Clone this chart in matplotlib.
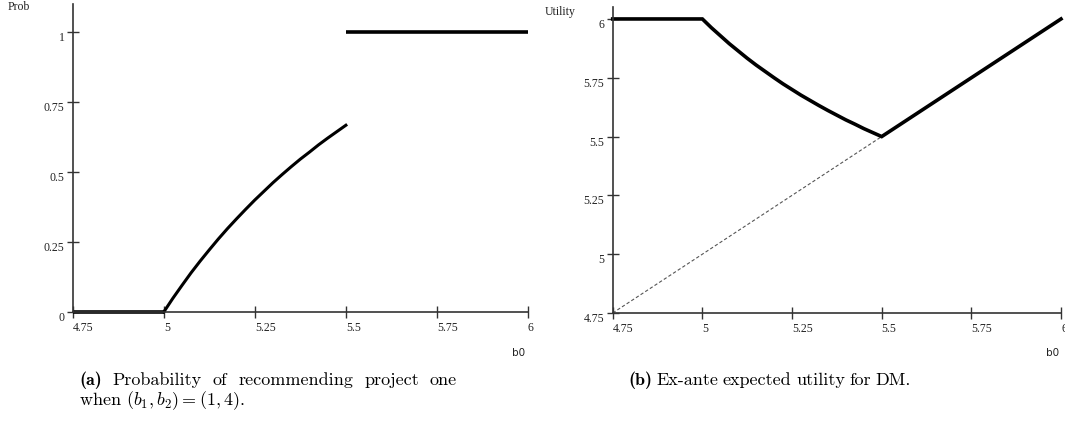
import numpy as np
import matplotlib
matplotlib.use("Agg")
import matplotlib.pyplot as plt

# ---- data ----
x_ticks = [4.75, 5.0, 5.25, 5.5, 5.75, 6.0]
x_tick_labels = ["4.75", "5", "5.25", "5.5", "5.75", "6"]

# (a) probability of recommending project one
prob_flat0_x = [4.75, 5.0]
prob_flat0_y = [0.0, 0.0]
prob_curve_x = [5.0, 5.025, 5.05, 5.075, 5.1, 5.125, 5.15, 5.175, 5.2, 5.225, 5.25,
                5.275, 5.3, 5.325, 5.35, 5.375, 5.4, 5.425, 5.45, 5.475, 5.5]
prob_curve_y = [0.0, 0.049, 0.095, 0.140, 0.182, 0.222, 0.261, 0.298, 0.333, 0.367, 0.400,
                0.431, 0.462, 0.491, 0.519, 0.546, 0.571, 0.597, 0.621, 0.644, 0.667]
prob_flat1_x = [5.5, 6.0]
prob_flat1_y = [1.0, 1.0]
prob_y_ticks = [0, 0.25, 0.5, 0.75, 1]
prob_y_labels = ["0", "0.25", "0.5", "0.75", "1"]

# (b) ex-ante expected utility
util_x = [4.75, 5.0, 5.025, 5.05, 5.075, 5.1, 5.125, 5.15, 5.175, 5.2, 5.225, 5.25,
          5.275, 5.3, 5.325, 5.35, 5.375, 5.4, 5.425, 5.45, 5.475, 5.5, 6.0]
util_y = [6.0, 6.0, 5.963, 5.929, 5.895, 5.864, 5.833, 5.804, 5.777, 5.75, 5.724, 5.70,
          5.676, 5.654, 5.632, 5.611, 5.591, 5.571, 5.553, 5.534, 5.517, 5.5, 6.0]
diag_x = [4.75, 5.5]
diag_y = [4.75, 5.5]
util_y_ticks = [4.75, 5, 5.25, 5.5, 5.75, 6]
util_y_labels = ["4.75", "5", "5.25", "5.5", "5.75", "6"]

plt.rcParams["mathtext.fontset"] = "cm"

W, H = 1065, 421
fig = plt.figure(figsize=(W / 100, H / 100), dpi=100)

ax1 = fig.add_axes([72.7 / W, 1 - 312 / H, (528 - 72.7) / W, 308 / H])
ax2 = fig.add_axes([612.7 / W, 1 - 313 / H, (1061 - 612.7) / W, (313 - 7.2) / H])

tick_font = dict(family="Liberation Serif", size=8.5, color="#222222")


def style_axes(ax, yticks, ylabels, ylim):
    ax.set_xlim(4.75, 6.0)
    ax.set_ylim(*ylim)
    for s in ["top", "right"]:
        ax.spines[s].set_visible(False)
    for s in ["left", "bottom"]:
        ax.spines[s].set_color("#333333")
        ax.spines[s].set_linewidth(1.2)
    ax.set_xticks(x_ticks)
    ax.set_xticklabels(x_tick_labels, ha="left", **tick_font)
    ax.set_yticks(yticks)
    ax.set_yticklabels(ylabels, va="top", **tick_font)
    ax.tick_params(axis="both", direction="inout", length=9, width=1.0, color="#333333")
    ax.tick_params(axis="x", pad=2.5)
    ax.tick_params(axis="y", pad=1.5)
    ax.patch.set_visible(False)


style_axes(ax1, prob_y_ticks, prob_y_labels, (0, 1.1))
style_axes(ax2, util_y_ticks, util_y_labels, (4.75, 6.05))

lw = 2.6
ax1.plot(prob_flat0_x, prob_flat0_y, color="black", lw=lw, clip_on=False, solid_capstyle="butt")
ax1.plot(prob_curve_x, prob_curve_y, color="black", lw=2.2, clip_on=False)
ax1.plot(prob_flat1_x, prob_flat1_y, color="black", lw=lw, clip_on=False, solid_capstyle="butt")

ax2.plot(diag_x, diag_y, color="#555555", lw=0.8, ls=(0, (3, 2)), clip_on=False)
ax2.plot(util_x, util_y, color="black", lw=lw, clip_on=False, solid_joinstyle="miter")

# axis names
lab_font = dict(family="Liberation Serif", size=8.5, color="#222222")
fig.text(8 / W, 1 - 7 / H, "Prob", ha="left", va="center", **lab_font)
fig.text(545 / W, 1 - 12 / H, "Utility", ha="left", va="center", **lab_font)
fig.text(519 / W, 1 - 353 / H, "b0", ha="center", va="center", family="DejaVu Sans", size=7.5, color="#222222")
fig.text(1053 / W, 1 - 353 / H, "b0", ha="center", va="center", family="DejaVu Sans", size=7.5, color="#222222")

# captions
cap_size = 13
fig.canvas.draw()
renderer = fig.canvas.get_renderer()


def place_words(words, x0, y, x1=None, gap=None):
    objs = []
    for w, bold in words:
        t = fig.text(0, 1 - y / H, w, ha="left", va="center",
                     family="cmb10" if bold else "cmr10", size=cap_size)
        objs.append(t)
    widths = [t.get_window_extent(renderer).width for t in objs]
    if x1 is not None:
        gap = (x1 - x0 - sum(widths)) / (len(objs) - 1)
    x = x0
    for t, wd in zip(objs, widths):
        t.set_x(x / W)
        x += wd + gap


line_a1 = [("(a)", True), ("Probability", False), ("of", False), ("recommending", False),
           ("project", False), ("one", False)]
place_words(line_a1, 79, 380, x1=457)
fig.text(79 / W, 1 - 401 / H, r"when $(b_1, b_2) = (1, 4)$.", ha="left", va="center",
         family="cmr10", size=cap_size)

line_b = [("(b)", True), ("Ex-ante", False), ("expected", False), ("utility", False),
          ("for", False), ("DM.", False)]
place_words(line_b, 628, 380, gap=4.5)

fig.savefig("out.png", dpi=100)
